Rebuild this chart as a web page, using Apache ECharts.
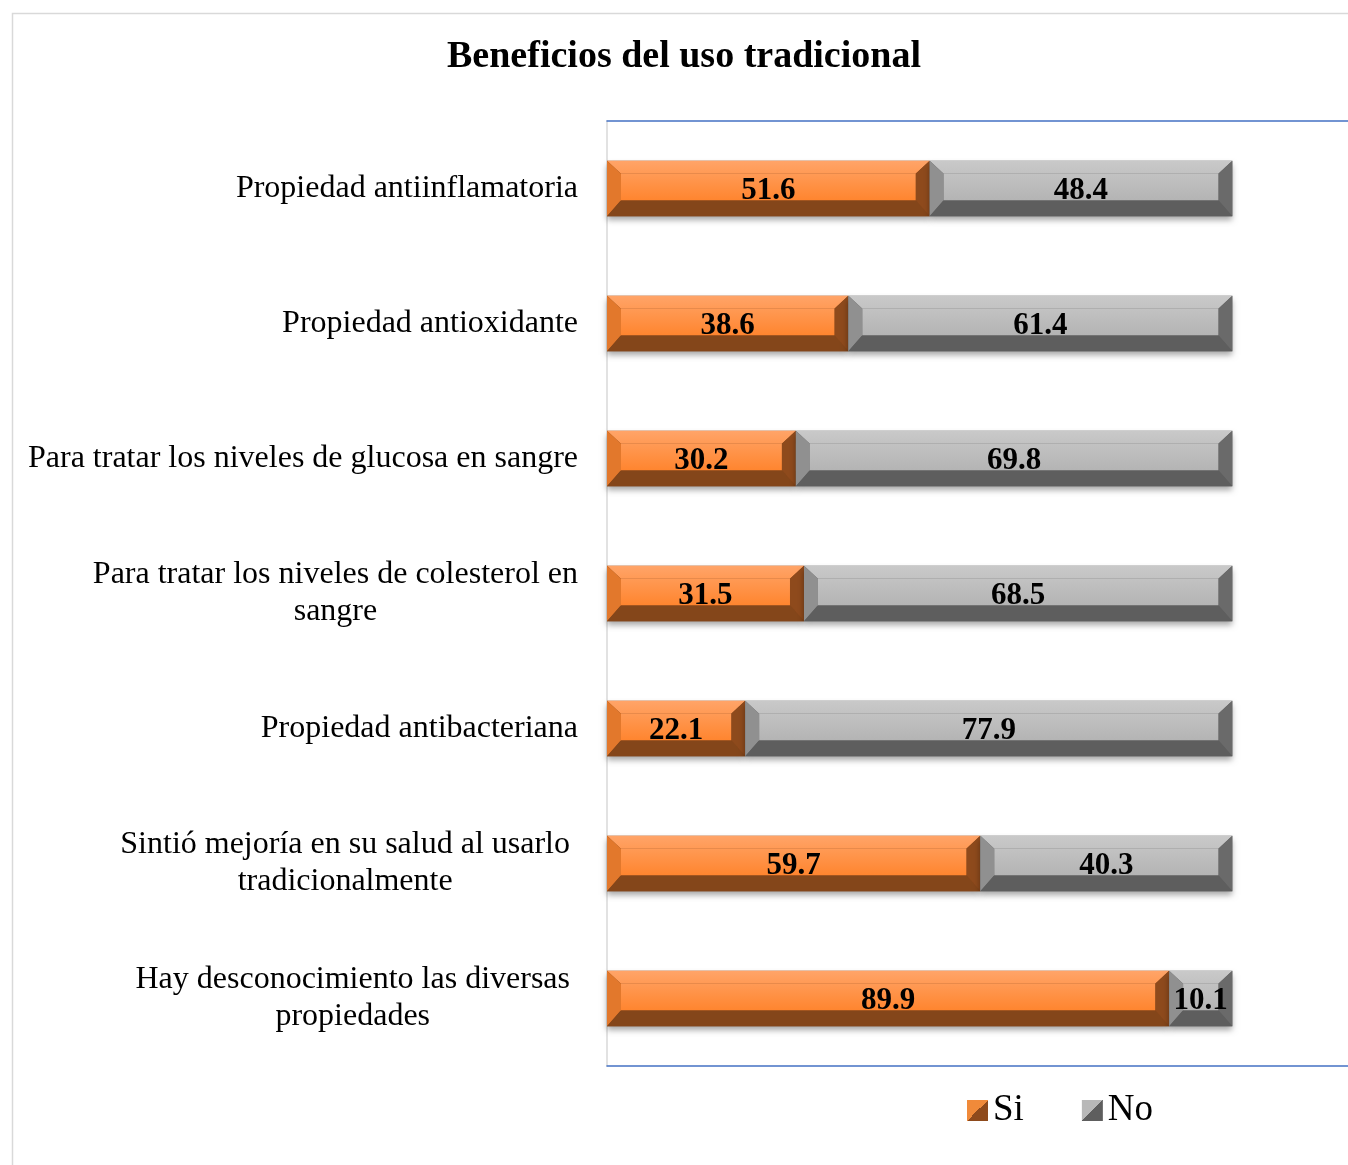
<!DOCTYPE html>
<html><head><meta charset="utf-8">
<script src="https://cdn.jsdelivr.net/npm/echarts@6/dist/echarts.min.js"></script>
<style>html,body{margin:0;padding:0;background:#fff}#c{width:1348px;height:1165px}</style>
</head><body><div id="c"></div>
<script>
const categories = [
  'Propiedad antiinflamatoria',
  'Propiedad antioxidante',
  'Para tratar los niveles de glucosa en sangre',
  'Para tratar los niveles de colesterol en\nsangre',
  'Propiedad antibacteriana',
  'Sintió mejoría en su salud al usarlo\ntradicionalmente',
  'Hay desconocimiento las diversas\npropiedades'
];
const siValues = [51.6, 38.6, 30.2, 31.5, 22.1, 59.7, 89.9];
const noValues = [48.4, 61.4, 69.8, 68.5, 77.9, 40.3, 10.1];

const FONT = '"Liberation Serif", "Times New Roman", serif';
const palettes = {
  Si: {top:'#FFA468', face:['#FF9A55','#FF852F'], left:'#E2782C', right:'#8E4A1C', bottom:'#84461A'},
  No: {top:'#C9C9C9', face:['#C2C2C2','#B4B4B4'], left:'#909090', right:'#6A6A6A', bottom:'#5E5E5E'}
};

function makeRender(pal) {
  return function (params, api) {
    const cat = api.value(2);
    const s = api.coord([api.value(0), cat]);
    const e = api.coord([api.value(1), cat]);
    const h = api.size([0, 1])[1] * 0.41;
    const x0 = s[0], x1 = e[0], y0 = s[1] - h / 2, y1 = s[1] + h / 2;
    const b = Math.min(14, (x1 - x0) / 3), t = 13, bb = 16;
    const ix0 = x0 + b, ix1 = x1 - b, iy0 = y0 + t, iy1 = y1 - bb;
    const val = api.value(3);
    return {
      type: 'group',
      children: [
        {type:'rect', shape:{x:x0, y:y0, width:x1-x0, height:h},
         style:{fill:pal.bottom, shadowBlur:6, shadowOffsetY:4, shadowColor:'rgba(0,0,0,0.35)'}},
        {type:'polygon', shape:{points:[[x0,y0],[x1,y0],[ix1,iy0],[ix0,iy0]]},
         style:{fill:{type:'linear', x:0, y:0, x2:0, y2:1, colorStops:[{offset:0,color:pal.top},{offset:1,color:pal.face[0]}]}}},
        {type:'polygon', shape:{points:[[x0,y0],[ix0,iy0],[ix0,iy1],[x0,y1]]}, style:{fill:pal.left}},
        {type:'polygon', shape:{points:[[x1,y0],[x1,y1],[ix1,iy1],[ix1,iy0]]}, style:{fill:pal.right}},
        {type:'polygon', shape:{points:[[x0,y1],[ix0,iy1],[ix1,iy1],[x1,y1]]}, style:{fill:pal.bottom}},
        {type:'rect', shape:{x:ix0, y:iy0, width:Math.max(0, ix1-ix0), height:iy1-iy0},
         style:{fill:{type:'linear', x:0, y:0, x2:0, y2:1, colorStops:[{offset:0,color:pal.face[0]},{offset:1,color:pal.face[1]}]}}},
        {type:'text', x:(x0 + x1) / 2, y:s[1] + 2,
         style:{text:val.toFixed(1), fill:'#000', font:'bold 31px ' + FONT, align:'center', verticalAlign:'middle'}}
      ]
    };
  };
}

const siData = siValues.map((v, i) => [0, v, i, v]);
const noData = noValues.map((v, i) => [siValues[i], siValues[i] + v, i, v]);

const chart = echarts.init(document.getElementById('c'));
chart.setOption({
  animation: false,
  backgroundColor: '#fff',
  graphic: [{type:'rect', left:10, top:11, shape:{width:1400, height:1200}, style:{fill:'none', stroke:'#D9D9D9', lineWidth:1.5}, silent:true, z:-10}],
  title: {text:'Beneficios del uso tradicional', left:679, top:33, textAlign:'center',
    textStyle:{fontFamily:FONT, fontWeight:'bold', fontSize:38, color:'#000'}},
  legend: {left:962, top:1087, itemWidth:21, itemHeight:21, itemGap:58,
    textStyle:{fontFamily:FONT, fontSize:37, color:'#000'},
    data:[
      {name:'Si', icon:'rect', itemStyle:{color:{type:'linear',x:0,y:0,x2:1,y2:1,colorStops:[{offset:0,color:'#F08A3A'},{offset:0.5,color:'#F08A3A'},{offset:0.5,color:'#8E4A1C'},{offset:1,color:'#8E4A1C'}]}}},
      {name:'No', icon:'rect', itemStyle:{color:{type:'linear',x:0,y:0,x2:1,y2:1,colorStops:[{offset:0,color:'#B8B8B8'},{offset:0.5,color:'#B8B8B8'},{offset:0.5,color:'#5E5E5E'},{offset:1,color:'#5E5E5E'}]}}}
    ]},
  grid: {left:607, right:0, top:121, bottom:99},
  xAxis: [
    {type:'value', min:0, max:118.5, position:'bottom', axisLine:{show:true, lineStyle:{color:'#4472C4', width:1.5}}, axisTick:{show:false}, axisLabel:{show:false}, splitLine:{show:false}},
    {type:'value', min:0, max:118.5, position:'top', axisLine:{show:true, lineStyle:{color:'#4472C4', width:1.5}}, axisTick:{show:false}, axisLabel:{show:false}, splitLine:{show:false}}
  ],
  yAxis: {type:'category', data:categories, inverse:true,
    axisLine:{show:true, lineStyle:{color:'#D9D9D9', width:1.5}}, axisTick:{show:false},
    axisLabel:{margin:29, color:'#000', fontFamily:FONT, fontSize:32, lineHeight:37,
      formatter: (v, i) => { const k = i >= 5 ? 'b' : 'a'; return v.split('\n').map(l => '{' + k + '|' + l + '}').join('\n'); },
      rich:{
        a:{align:'center', fontFamily:FONT, fontSize:32, lineHeight:37, color:'#000'},
        b:{align:'center', fontFamily:FONT, fontSize:32, lineHeight:37, color:'#000', padding:[0,8,0,0]}
      }}},
  series: [
    {name:'Si', type:'custom', xAxisIndex:0, renderItem:makeRender(palettes.Si), data:siData, itemStyle:{color:'#F08A3A'}, encode:{x:[0,1], y:2}},
    {name:'No', type:'custom', xAxisIndex:0, renderItem:makeRender(palettes.No), data:noData, itemStyle:{color:'#B8B8B8'}, encode:{x:[0,1], y:2}}
  ]
});
</script></body></html>
